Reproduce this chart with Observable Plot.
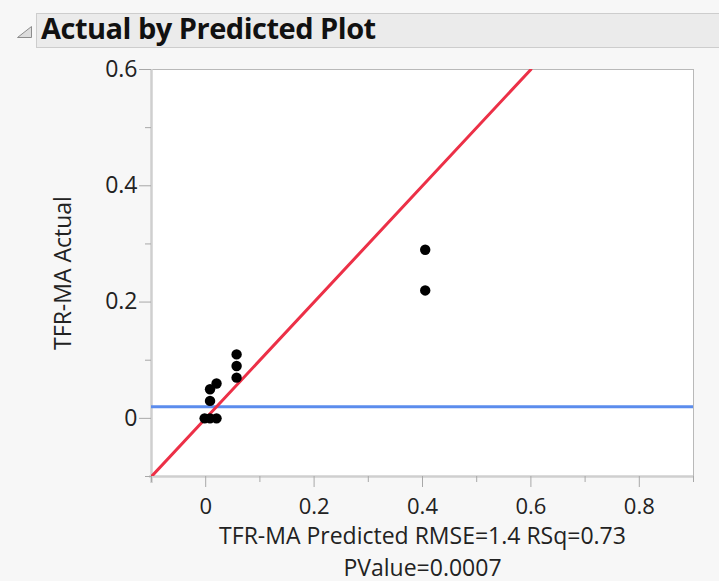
<!DOCTYPE html>
<html>
<head>
<meta charset="utf-8">
<script src="https://cdn.jsdelivr.net/npm/d3@7"></script>
<script src="https://cdn.jsdelivr.net/npm/@observablehq/plot@0.6"></script>
<style>
  html, body { margin: 0; padding: 0; background: #f7f7f7; }
  body { width: 719px; height: 581px; overflow: hidden; font-family: "Open Sans", "Noto Sans", sans-serif; }
  #head { position: relative; height: 50px; }
  #head svg.tri { position: absolute; left: 16px; top: 25px; }
  #head .bar {
    position: absolute; left: 36px; top: 13px; right: -4px; height: 35px;
    background: #ebebeb; border: 1px solid #cdcdcd; box-sizing: border-box;
  }
  #head .bar span {
    position: absolute; left: 4px; top: -6px;
    font-weight: 700; font-size: 29px; color: #111; letter-spacing: -0.5px;
  }
</style>
</head>
<body>
<div id="head">
  <svg class="tri" width="18" height="14"><polygon points="1.5,12.5 15.5,1.5 15.5,12.5" fill="#dcdcdc" stroke="#8c8c8c" stroke-width="1"/></svg>
  <div class="bar"><span>Actual by Predicted Plot</span></div>
</div>
<div id="chart"></div>
<script>
// Predicted vs actual TFR-MA observations
const predicted = [0.405, 0.405, 0.057, 0.057, 0.057, 0.020, 0.008, 0.008, -0.002, 0.008, 0.020];
const actual    = [0.29,  0.22,  0.11,  0.09,  0.07,  0.06,  0.05,  0.03,  0.0,    0.0,   0.0];

// Fit line (actual = predicted) and mean of actual
const fitX = [-0.1, 0.6];
const meanActual = 0.02;

// Axis ticks
const xMajor = [0, 0.2, 0.4, 0.6, 0.8];
const xMinor = [-0.1, 0.1, 0.3, 0.5, 0.7, 0.9];
const yMajor = [0, 0.2, 0.4, 0.6];
const yMinor = [-0.1, 0.1, 0.3, 0.5];

const xLabel = "TFR-MA Predicted RMSE=1.4 RSq=0.73";
const xLabel2 = "PValue=0.0007";
const yLabel = "TFR-MA Actual";

const points = predicted.map((p, i) => ({predicted: p, actual: actual[i]}));
const fit = fitX.map(v => ({x: v, y: v}));
const fmt = d => d === 0 ? "0" : d3.format(".1f")(d);
const blank = () => "";

const chart = Plot.plot({
  width: 719,
  height: 531,
  marginTop: 19,
  marginLeft: 151,
  marginRight: 26,
  marginBottom: 105,
  style: {background: "#f7f7f7", fontFamily: "'Open Sans', 'Noto Sans', sans-serif", fontSize: "23px", color: "#222"},
  x: {domain: [-0.1, 0.9]},
  y: {domain: [-0.1, 0.6]},
  marks: [
    Plot.frame({fill: "white", stroke: "#b9b9b9"}),
    Plot.ruleX([-0.1], {stroke: "#cfcfcf", strokeWidth: 2.5, y1: 0.6, y2: -0.1, insetBottom: -7}),
    Plot.ruleY([-0.1], {stroke: "#cfcfcf", strokeWidth: 2.5, insetLeft: -2}),
    Plot.axisX({ticks: xMinor, tickSize: 6, tickFormat: blank, stroke: "#a8a8a8", label: null}),
    Plot.axisX({ticks: xMajor, tickSize: 11, tickPadding: 11, tickFormat: fmt, stroke: "#a8a8a8", label: null, fontSize: 22}),
    Plot.axisY({ticks: yMinor, tickSize: 6, tickFormat: blank, stroke: "#a8a8a8", label: null}),
    Plot.axisY({ticks: yMajor, tickSize: 12, tickPadding: 2, tickFormat: fmt, stroke: "#a8a8a8",
      label: yLabel, labelAnchor: "center", labelArrow: "none", labelOffset: 97}),
    Plot.ruleY([meanActual], {stroke: "#5b8ced", strokeWidth: 3}),
    Plot.line(fit, {x: "x", y: "y", stroke: "#ec3047", strokeWidth: 3, clip: true}),
    Plot.dot(points, {x: "predicted", y: "actual", r: 5.2, fill: "black", stroke: "none"}),
    Plot.text([xLabel], {text: d => d, frameAnchor: "bottom", dy: 67, fill: "#222"}),
    Plot.text([xLabel2], {text: d => d, frameAnchor: "bottom", dy: 99, fill: "#222"})
  ]
});
document.getElementById("chart").append(chart);
</script>
</body>
</html>
